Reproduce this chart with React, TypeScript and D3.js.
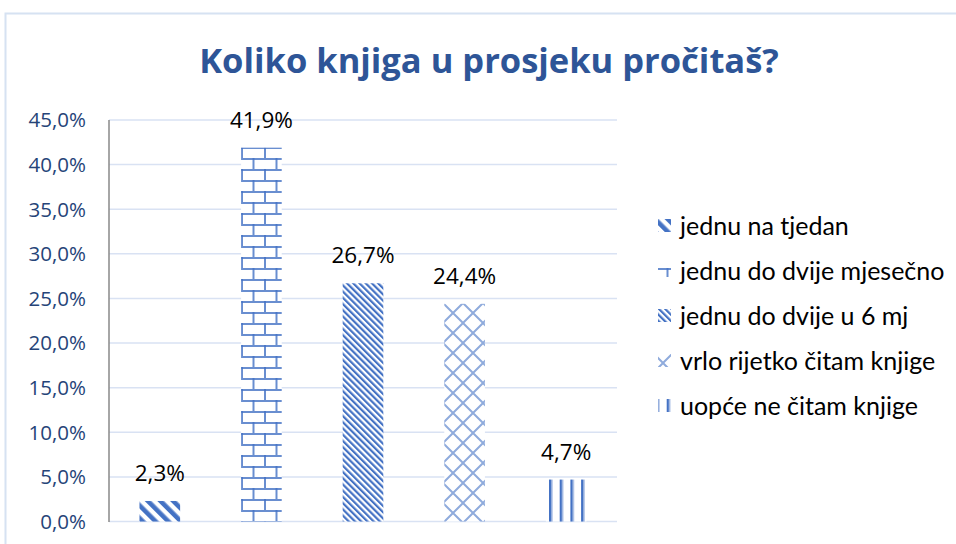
import React from "react";
import * as d3 from "d3";

const categories = [
  "jednu na tjedan",
  "jednu do dvije mjesečno",
  "jednu do dvije u 6 mj",
  "vrlo rijetko čitam knjige",
  "uopće ne čitam knjige",
];
const values = [0.023, 0.419, 0.267, 0.244, 0.047];
const valueLabels = ["2,3%", "41,9%", "26,7%", "24,4%", "4,7%"];
const yTicks = [0, 0.05, 0.1, 0.15, 0.2, 0.25, 0.3, 0.35, 0.4, 0.45];
const patternIds = ["pWdDiag", "pBrick", "pDkDiag", "pDiamond", "pVert"];
const title = "Koliko knjiga u prosjeku pročitaš?";

const W = 956;
const H = 544;
const BLUE = "#4472C4";
const LIGHT = "#8FAADC";
const LATO = "Lato, 'Open Sans', sans-serif";
const OPEN = "'Open Sans', 'Noto Sans', sans-serif";

export default function App() {
  const x = d3.scaleBand<string>().domain(categories).range([109, 617]).paddingInner(0.6).paddingOuter(0.3);
  const y = d3.scaleLinear().domain([0, 0.45]).range([521.5, 120]);
  const fmt = (v: number) => d3.format(".1f")(v * 100).replace(".", ",") + "%";

  return (
    <svg width={W} height={H} style={{ position: "absolute", left: 0, top: 0, background: "#fff" }}>
      <defs>
        <pattern id="pWdDiag" patternUnits="userSpaceOnUse" width={9} height={9} patternTransform="rotate(-45)">
          <rect x={0} y={0} width={9} height={9} fill="#fff" />
          <rect x={0} y={0} width={4} height={9} fill={BLUE} />
          <rect x={4} y={0} width={1} height={9} fill={LIGHT} />
        </pattern>
        <pattern id="pDkDiag" patternUnits="userSpaceOnUse" width={4.4} height={4.4} patternTransform="rotate(-45)">
          <rect x={0} y={0} width={4.4} height={4.4} fill="#fff" />
          <rect x={0} y={0} width={2} height={4.4} fill={BLUE} />
          <rect x={2} y={0} width={0.6} height={4.4} fill={LIGHT} />
        </pattern>
        <pattern id="pBrick" patternUnits="userSpaceOnUse" width={23} height={22} x={241} y={147}>
          <rect x={0} y={0} width={23} height={22} fill="#fff" />
          <rect x={0} y={0} width={23} height={2} fill={BLUE} opacity={0.8} />
          <rect x={0} y={11} width={23} height={2} fill={BLUE} opacity={0.8} />
          <rect x={0} y={0} width={2} height={11} fill={BLUE} opacity={0.8} />
          <rect x={11.5} y={11} width={2} height={11} fill={BLUE} opacity={0.8} />
        </pattern>
        <pattern id="pDiamond" patternUnits="userSpaceOnUse" width={20} height={20} x={443} y={303}>
          <rect x={0} y={0} width={20} height={20} fill="#fff" />
          <path d="M0,0L20,20M-10,10L10,30M10,-10L30,10M20,0L0,20M-10,10L10,-10M10,30L30,10" stroke={BLUE} strokeWidth={2} opacity={0.6} />
        </pattern>
        <pattern id="pVert" patternUnits="userSpaceOnUse" width={10.7} height={10} x={549} y={0}>
          <rect x={0} y={0} width={10.7} height={10} fill="#fff" />
          <rect x={0} y={0} width={2} height={10} fill={BLUE} />
          <rect x={2} y={0} width={1.5} height={10} fill={LIGHT} />
        </pattern>
      </defs>

      <rect x={5.5} y={13.5} width={960} height={560} fill="#fff" stroke="#D6E2F2" strokeWidth={2} />

      <text x={489} y={73} textAnchor="middle" fontFamily={OPEN} fontWeight="bold" fontSize={34.5} fill="#2E5597">
        {title}
      </text>

      {yTicks.map((t) => (
        <g key={t}>
          <line x1={109} x2={617} y1={y(t)} y2={y(t)} stroke="#D9E2F3" strokeWidth={1.5} />
          <text x={86} y={y(t)} dy="0.36em" textAnchor="end" fontFamily={OPEN} fontSize={20.5} fill="#264478">
            {fmt(t)}
          </text>
        </g>
      ))}
      <line x1={109} x2={109} y1={y(0.45)} y2={y(0) + 0.5} stroke="#898989" strokeWidth={1.5} />

      {categories.map((c, i) => (
        <g key={c}>
          <rect x={x(c)} y={y(values[i])} width={x.bandwidth()} height={y(0) - y(values[i])} fill={`url(#${patternIds[i]})`} />
          <text
            x={(x(c) as number) + x.bandwidth() / 2}
            y={y(values[i]) - 20}
            textAnchor="middle"
            fontFamily={OPEN}
            fontSize={22.5}
            fill="#000"
          >
            {valueLabels[i]}
          </text>
        </g>
      ))}

      {categories.map((c, i) => {
        const cy = 226 + i * 45;
        return (
          <g key={"lg" + c}>
            <rect x={658} y={cy - 7} width={13} height={13} fill={`url(#${patternIds[i]})`} />
            <text x={680} y={cy} dy="0.35em" fontFamily={LATO} fontSize={25} fill="#000">
              {c}
            </text>
          </g>
        );
      })}
    </svg>
  );
}
